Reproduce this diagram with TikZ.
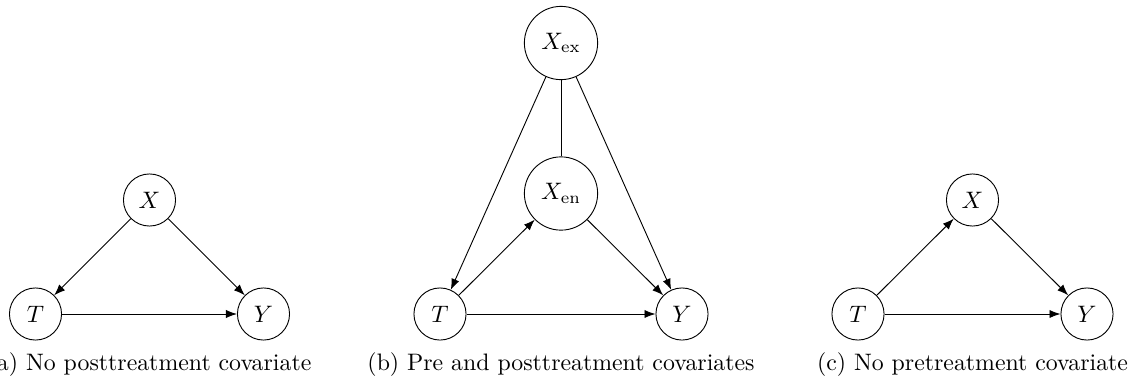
\RequirePackage{fix-cm}
\documentclass[tikz,border=0pt]{standalone}
\usepackage{tikz}
\usetikzlibrary{arrows.meta}
\tikzset{
  var/.style={circle, draw, minimum size=0.8cm, inner sep=1pt},
  bigvar/.style={var, minimum size=32pt},
  arr/.style={-{Latex}},
  subcap/.style={anchor=base, inner sep=0pt},
}

\begin{document}
\begin{tikzpicture}[x=0.4368pt, y=-0.4368pt, font=\fontsize{10.4}{12.5}\selectfont]
    \useasboundingbox (0,0) rectangle (1138,383);
    % (a)
    \node[var] (xa) at (149.5,200) {$X$};
    \node[var] (ta) at (35.5,314) {$T$};
    \node[var] (ya) at (263.5,314) {$Y$};
    \node[subcap] (capa) at (149.5,370) {(a) No posttreatment covariate};
    \draw[arr] (xa) -- (ta); \draw[arr] (xa) -- (ya); \draw[arr] (ta) -- (ya);
    % (b)
    \node[bigvar] (xex) at (561,43) {$X_{\mathrm{ex}}$};
    \node[bigvar] (xen) at (561,193.5) {$X_{\mathrm{en}}$};
    \node[var] (tb) at (440,314) {$T$};
    \node[var] (yb) at (682,314) {$Y$};
    \node[subcap] (capb) at (561,370) {(b) Pre and posttreatment covariates};
    \draw (xex) -- (xen);
    \draw[arr] (xex) -- (tb); \draw[arr] (xex) -- (yb);
    \draw[arr] (tb) -- (xen); \draw[arr] (xen) -- (yb); \draw[arr] (tb) -- (yb);
    % (c)
    \node[var] (xc) at (972.5,200) {$X$};
    \node[var] (tc) at (858,314) {$T$};
    \node[var] (yc) at (1087,314) {$Y$};
    \node[subcap] (capc) at (972.5,370) {(c) No pretreatment covariate};
    \draw[arr] (tc) -- (xc); \draw[arr] (xc) -- (yc); \draw[arr] (tc) -- (yc);
\end{tikzpicture}
\end{document}
